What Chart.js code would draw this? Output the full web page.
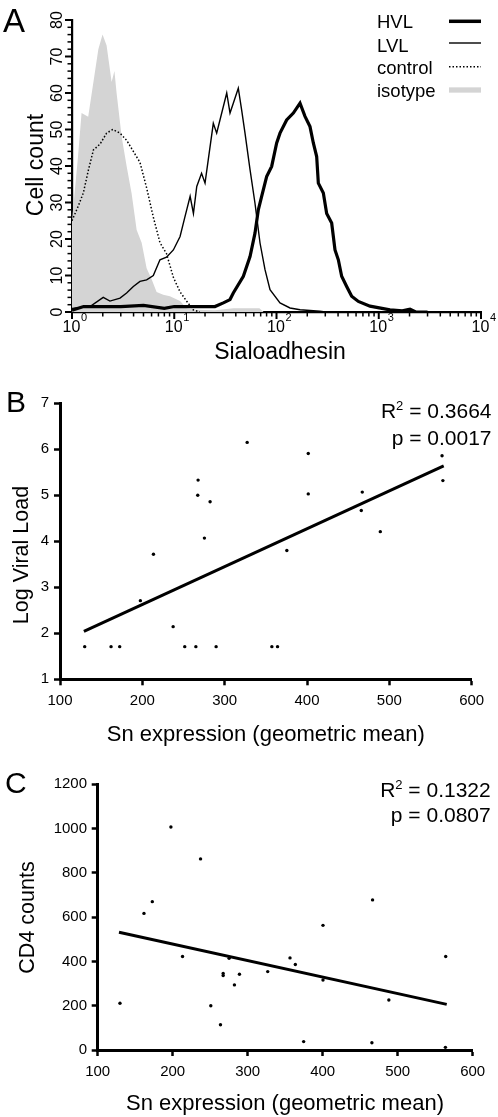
<!DOCTYPE html>
<html>
<head>
<meta charset="utf-8">
<script src="https://cdn.jsdelivr.net/npm/chart.js@4.4.1/dist/chart.umd.min.js"></script>
<style>
  body { margin: 0; background: #fff; }
  #wrap { position: relative; width: 498px; height: 1117px; background: #fff; overflow: hidden; }
  canvas { position: absolute; left: 0; }
</style>
</head>
<body>
<div id="wrap">
  <canvas id="chartA" width="498" height="362" style="top:0px"></canvas>
  <canvas id="chartB" width="498" height="392" style="top:362px"></canvas>
  <canvas id="chartC" width="498" height="377" style="top:740px"></canvas>
</div>
<script>
const FONT = "'Liberation Sans', Arial, Helvetica, sans-serif";

// panel A - sialoadhesin histograms (x = fluorescence, log axis)
const hvlX = [1, 1.3, 2, 3, 5, 8, 10, 15, 25, 30.2, 35.1, 37.8, 47.4, 55.1, 61.6, 66.4, 71.6, 80.1, 89.7, 100.4, 108.2, 125.7, 146.1, 169.8, 190, 212.6, 229.2, 247.1, 256.5, 287.1, 309.5, 346.4, 373.4, 402.5, 433.9, 485.6, 543.4, 631.6, 821.3, 1288, 1700, 2021, 2300, 3000];
const hvlY = [0.5, 1.5, 1.5, 1.5, 1.8, 1, 1.5, 1.5, 1.5, 2.5, 3.4, 5.2, 9.8, 15.2, 21.6, 28, 31.7, 37.1, 39.9, 46.3, 49, 52.6, 54.5, 57.2, 53.6, 50.8, 46.3, 42.6, 35.3, 32.6, 27, 24.4, 17, 14.3, 9.8, 7, 4.3, 2.9, 1.6, 0.6, 0.3, 0.8, 0, 0];

const lvlX = [1, 1.5, 2.02, 2.35, 2.95, 3.42, 3.98, 4.62, 5.37, 6.24, 7.25, 8.4, 9.8, 11.4, 12.7, 14.3, 15.4, 16.6, 18.5, 20, 21.5, 24.1, 26, 28, 32.6, 35.1, 37.8, 42.3, 45.6, 49.2, 55.1, 61.6, 69, 77.2, 86.4, 108.2, 135.6, 170, 266, 300];
const lvlY = [1, 1.5, 4, 3, 3.8, 5.2, 7, 8.4, 8.8, 10, 14.3, 15, 17, 20.7, 26, 31.7, 27, 34.4, 38, 35.3, 41.7, 51.7, 49, 52.6, 60, 54.5, 57.2, 61.3, 55.4, 49, 39, 29.8, 18.9, 11.6, 6.1, 2.5, 1.1, 0.6, 0.2, 0];

const ctrlX = [1, 1.15, 1.29, 1.45, 1.62, 1.88, 2.18, 2.5, 2.95, 3.43, 3.98, 4.62, 5.37, 6.24, 7.25, 8.4, 9.8, 11.4, 13.2, 15.3, 17.8];
const ctrlY = [25, 29, 32.6, 39, 44.4, 46, 49, 50, 49, 47, 44, 41, 34, 26, 19, 16, 9.5, 5.5, 3, 0.6, 0];

const isoX = [1, 1.14, 1.24, 1.44, 1.62, 1.81, 1.99, 2.18, 2.44, 2.6, 2.73, 3.06, 3.42, 3.83, 4.29, 4.8, 5.37, 6.01, 6.72, 7.8, 9.07, 11.4, 13.2, 16, 25, 38, 50, 68, 75];
const isoY = [25, 42, 54.5, 53.5, 63, 72, 76, 73, 63, 66, 60, 48, 40, 32.5, 22.5, 19, 12, 9, 5.5, 4.7, 4.3, 3, 1, 0.6, 0.5, 1, 1, 1, 0];

const histYTicks = [0, 10, 20, 30, 40, 50, 60, 70, 80];
const histXExps = [0, 1, 2, 3, 4];
const legendLabels = ['HVL', 'LVL', 'control', 'isotype'];

// panel B - Sn expression vs log viral load
const snB = [130, 162, 172.5, 197.6, 213.5, 237.4, 251.5, 265, 267.7, 267.3, 275.4, 282.3, 289.6, 327.3, 357.3, 364.2, 375.5, 401.5, 401.5, 467.1, 465.9, 489, 564, 565];
const vlB = [1.71, 1.71, 1.71, 2.71, 3.72, 2.145, 1.71, 1.71, 5.33, 5.0, 4.07, 4.86, 1.71, 6.15, 1.71, 1.71, 3.8, 5.91, 5.03, 5.07, 4.67, 4.21, 5.86, 5.32];
const fitBX = [129, 566];
const fitBY = [2.04, 5.64];
const statsB = ['0.3664', '0.0017'];
const snTicks = [100, 200, 300, 400, 500, 600];
const vlTicks = [1, 2, 3, 4, 5, 6, 7];

// panel C - Sn expression vs CD4 counts
const snC = [129.7, 161.7, 172.8, 197.6, 213.1, 237.1, 250.8, 263.7, 267.3, 267.3, 275.2, 282.3, 289, 326.7, 356.4, 363.5, 374.6, 400.4, 400.4, 466.5, 465.6, 488.2, 564, 563.6];
const cd4C = [211, 617, 670, 1007, 422, 863, 200, 114, 346, 336, 414, 294, 342, 354, 416, 386, 38, 563, 316, 678, 33, 226, 422, 12];
const fitCX = [128.4, 565.4];
const fitCY = [531.6, 206];
const statsC = ['0.1322', '0.0807'];
const cd4Ticks = [0, 200, 400, 600, 800, 1000, 1200];

function zip(xs, ys) { return xs.map((x, i) => ({x: x, y: ys[i]})); }
function fixY(w) { return s => { s.width = w; s.paddingTop = 0; s.paddingBottom = 0; }; }
function fixX(h) { return s => { s.height = h; s.paddingLeft = 0; s.paddingRight = 0; }; }
function useTicks(arr) { return s => { s.ticks = arr.map(v => ({value: v})); }; }

function text(ctx, s, x, y, size, align) {
  ctx.font = size + 'px ' + FONT;
  ctx.fillStyle = '#000';
  ctx.textAlign = align || 'left';
  ctx.textBaseline = 'alphabetic';
  ctx.fillText(s, x, y);
}
function vtext(ctx, s, x, y, size) {
  ctx.save();
  ctx.translate(x, y);
  ctx.rotate(-Math.PI / 2);
  text(ctx, s, 0, 0, size, 'center');
  ctx.restore();
}
function widthOf(ctx, s, size) { ctx.font = size + 'px ' + FONT; return ctx.measureText(s).width; }
function drawStats(ctx, right, y1, y2, r2, p) {
  const rest = ' = ' + r2;
  text(ctx, rest, right, y1, 21, 'right');
  const w = widthOf(ctx, rest, 21);
  text(ctx, '2', right - w, y1 - 8, 13, 'right');
  const w2 = widthOf(ctx, '2', 13);
  text(ctx, 'R', right - w - w2, y1, 21, 'right');
  text(ctx, 'p = ' + p, right, y2, 21, 'right');
}

const baseOpts = {
  responsive: false,
  animation: false,
  devicePixelRatio: 1,
  plugins: { legend: { display: false }, tooltip: { enabled: false } }
};

// ---------- A ----------
const panelA = {
  id: 'panelA',
  afterDraw(chart) {
    const ctx = chart.ctx, xs = chart.scales.x, ys = chart.scales.y, a = chart.chartArea;
    ctx.save();
    ctx.strokeStyle = '#000';
    // y ticks (minor every 2)
    for (let v = 0; v <= 80; v += 2) {
      const py = ys.getPixelForValue(v);
      const major = v % 10 === 0;
      ctx.lineWidth = major ? 2 : 1.5;
      ctx.beginPath();
      ctx.moveTo(a.left, py);
      ctx.lineTo(a.left - (major ? 7 : 4.5), py);
      ctx.stroke();
    }
    // x ticks (log decades with minors)
    for (let d = 0; d <= 4; d++) {
      for (let k = 1; k <= 9; k++) {
        if (d === 4 && k > 1) break;
        const px = xs.getPixelForValue(k * Math.pow(10, d));
        const major = k === 1;
        ctx.lineWidth = major ? 2 : 1.5;
        ctx.beginPath();
        ctx.moveTo(px, a.bottom);
        ctx.lineTo(px, a.bottom + (major ? 7 : 4.5));
        ctx.stroke();
      }
    }
    histYTicks.forEach(v => vtext(ctx, String(v), 62.4, ys.getPixelForValue(v), 16));
    histXExps.forEach(e => {
      const px = xs.getPixelForValue(Math.pow(10, e));
      text(ctx, '10', px - 0.5, 331.5, 16, 'center');
      const w = widthOf(ctx, '10', 16);
      text(ctx, String(e), px - 0.5 + w / 2 + 0.5, 320.5, 11, 'left');
    });
    vtext(ctx, 'Cell count', 43.3, 165, 23);
    text(ctx, 'Sialoadhesin', 280, 359, 23, 'center');
    text(ctx, 'A', 3, 31.7, 33, 'left');

    // legend
    const rows = [28.3, 51.5, 74, 96.5];
    const lineY = [21.3, 43, 66.7, 90];
    legendLabels.forEach((s, i) => text(ctx, s, 377, rows[i], 18.5, 'left'));
    ctx.lineCap = 'butt';
    ctx.lineWidth = 3.5; ctx.beginPath(); ctx.moveTo(449, lineY[0]); ctx.lineTo(481, lineY[0]); ctx.stroke();
    ctx.lineWidth = 1.4; ctx.beginPath(); ctx.moveTo(449, lineY[1]); ctx.lineTo(481, lineY[1]); ctx.stroke();
    ctx.setLineDash([1.5, 2]);
    ctx.lineWidth = 1.5; ctx.beginPath(); ctx.moveTo(449, lineY[2]); ctx.lineTo(481, lineY[2]); ctx.stroke();
    ctx.setLineDash([]);
    ctx.strokeStyle = '#d4d4d4';
    ctx.lineWidth = 5.3; ctx.beginPath(); ctx.moveTo(449, lineY[3]); ctx.lineTo(481, lineY[3]); ctx.stroke();
    ctx.restore();
  }
};

new Chart(document.getElementById('chartA'), {
  type: 'line',
  data: {
    datasets: [
      { label: 'HVL', data: zip(hvlX, hvlY), borderColor: '#000', borderWidth: 3.2, pointRadius: 0, tension: 0, order: 1 },
      { label: 'LVL', data: zip(lvlX, lvlY), borderColor: '#000', borderWidth: 1.4, pointRadius: 0, tension: 0, order: 2 },
      { label: 'control', data: zip(ctrlX, ctrlY), borderColor: '#000', borderWidth: 1.5, borderDash: [1.5, 2], pointRadius: 0, tension: 0, order: 3 },
      { label: 'isotype', data: zip(isoX, isoY), borderColor: '#d4d4d4', borderWidth: 0, backgroundColor: '#d4d4d4', fill: 'origin', pointRadius: 0, tension: 0, order: 4 }
    ]
  },
  options: Object.assign({}, baseOpts, {
    layout: { padding: { left: 0, right: 17, top: 20, bottom: 0 } },
    scales: {
      x: {
        type: 'logarithmic', min: 1, max: 10000,
        ticks: { display: false },
        grid: { display: true, drawOnChartArea: false, drawTicks: false },
        border: { display: true, color: '#000', width: 2.3 },
        afterFit: fixX(50)
      },
      y: {
        type: 'linear', min: 0, max: 80,
        ticks: { display: false },
        grid: { display: true, drawOnChartArea: false, drawTicks: false },
        border: { display: true, color: '#000', width: 2.2 },
        afterFit: fixY(72)
      }
    }
  }),
  plugins: [panelA]
});

// ---------- B & C ----------
function scatterPanel(id, cfg) {
  const deco = {
    id: 'deco' + id,
    afterDraw(chart) {
      const ctx = chart.ctx;
      ctx.save();
      text(ctx, cfg.letter, cfg.letterX, cfg.letterY, 30, 'left');
      drawStats(ctx, cfg.statsRight, cfg.statsY1, cfg.statsY2, cfg.stats[0], cfg.stats[1]);
      vtext(ctx, cfg.yTitle, cfg.yTitleX, cfg.yTitleY, 21.5);
      text(ctx, 'Sn expression (geometric mean)', cfg.xTitleX, cfg.xTitleY, 22, 'center');
      ctx.restore();
    }
  };
  const tickFont = { family: FONT, size: 15 };
  const plain = v => String(v);
  const grid = { display: true, drawOnChartArea: false, drawTicks: true, tickLength: 6, tickWidth: 2.5, tickColor: '#000' };
  new Chart(document.getElementById(id), {
    type: 'scatter',
    data: {
      datasets: [
        { data: cfg.points, pointRadius: 1.7, pointBackgroundColor: '#000', pointBorderWidth: 0, showLine: false },
        { data: cfg.fit, showLine: true, borderColor: '#000', borderWidth: 3, pointRadius: 0 }
      ]
    },
    options: Object.assign({}, baseOpts, {
      layout: { padding: cfg.padding },
      scales: {
        x: {
          type: 'linear', min: 100, max: 600,
          afterBuildTicks: useTicks(snTicks),
          ticks: { font: tickFont, color: '#000', padding: cfg.xPad, maxRotation: 0, callback: plain },
          grid: grid,
          border: { display: true, color: '#000', width: 3 },
          afterFit: fixX(cfg.xH)
        },
        y: {
          type: 'linear', min: cfg.yTicks[0], max: cfg.yTicks[cfg.yTicks.length - 1],
          afterBuildTicks: useTicks(cfg.yTicks),
          ticks: { font: tickFont, color: '#000', padding: cfg.yPad, callback: plain },
          grid: grid,
          border: { display: true, color: '#000', width: 3 },
          afterFit: fixY(cfg.yW)
        }
      }
    }),
    plugins: [deco]
  });
}

scatterPanel('chartB', {
  points: zip(snB, vlB), fit: zip(fitBX, fitBY), yTicks: vlTicks, stats: statsB,
  padding: { left: 0, right: 26.3, top: 41.3, bottom: 0 }, yW: 60, xH: 74.7, xPad: 6.4, yPad: 5,
  letter: 'B', letterX: 6, letterY: 49.7,
  statsRight: 491.5, statsY1: 55.7, statsY2: 83,
  yTitle: 'Log Viral Load', yTitleX: 27.5, yTitleY: 193,
  xTitleX: 265.8, xTitleY: 378.8
});

scatterPanel('chartC', {
  points: zip(snC, cd4C), fit: zip(fitCX, fitCY), yTicks: cd4Ticks, stats: statsC,
  padding: { left: 0, right: 25.3, top: 44.3, bottom: 0 }, yW: 97.7, xH: 67, xPad: 7.3, yPad: 4.7,
  letter: 'C', letterX: 5, letterY: 53.3,
  statsRight: 490.7, statsY1: 57.3, statsY2: 81.7,
  yTitle: 'CD4 counts', yTitleX: 34, yTitleY: 177.5,
  xTitleX: 285, xTitleY: 370
});
</script>
</body>
</html>
